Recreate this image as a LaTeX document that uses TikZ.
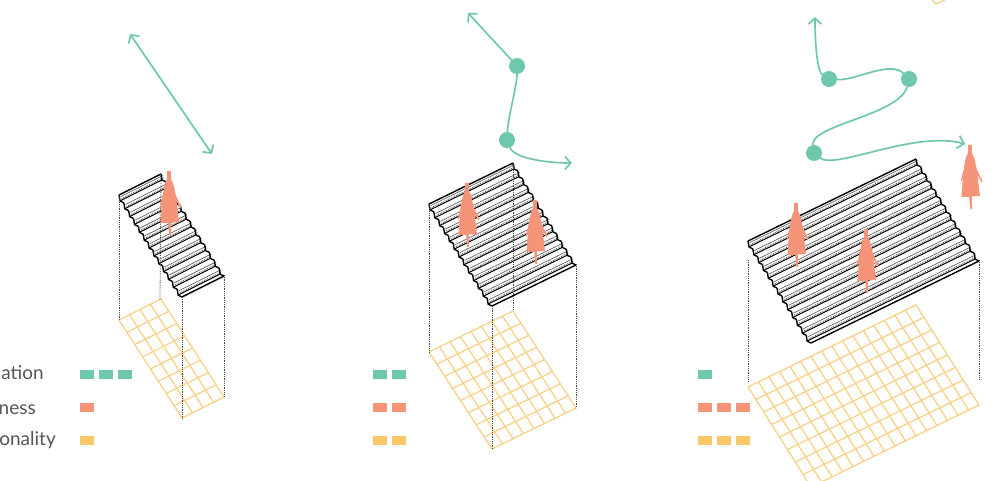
\documentclass[tikz,border=0pt]{standalone}
\usepackage{fontspec}
\setmainfont{Lato}
\usetikzlibrary{positioning, arrows.meta}
\definecolor{flow}{RGB}{111, 199, 174}
\definecolor{people}{RGB}{245, 148, 120}
\definecolor{func}{RGB}{247, 199, 104}
\definecolor{gridline}{RGB}{247, 208, 131}
\definecolor{label}{RGB}{85, 85, 85}
\definecolor{dots}{RGB}{70, 70, 70}

\begin{document}
\begin{tikzpicture}[
    x=1pt, y=-1pt,
    dot_style/.style={
        circle,
        fill=flow,
        draw=none,
        inner sep=0pt,
        outer sep=0pt,
        minimum size=16pt
    },
    flow_style/.style={
        draw=flow,
        line width=1.7pt,
        -{Straight Barb[length=6pt, width=13pt]}
    },
    chip_style/.style={
        minimum width=14pt,
        minimum height=9pt,
        inner sep=0pt,
        outer sep=0pt,
        node distance=5pt
    },
    info/.style={text=label, font=\fontsize{19}{21}\selectfont, anchor=base east, inner sep=0pt},
    grid_style/.style={draw=gridline, line width=1.2pt},
    edge_style/.style={draw=black, line width=1.4pt, line join=round},
    tread_style/.style={draw=black, line width=1.0pt},
    back_style/.style={draw=black!60, line width=0.7pt},
    nose_style/.style={draw=dots, line width=0.8pt, densely dotted},
    drop_style/.style={draw=dots, line width=0.8pt, densely dotted},
    person/.pic={
        \fill[people] (-1.9,0) -- (1.9,0) -- (1.9,8) -- (4,12) -- (7,25) -- (12.5,36) -- (11.5,37.5)
            -- (7.5,30) -- (8,35) -- (10,51) -- (1.8,51.5) -- (2.2,64) -- (0.3,64) -- (-0.8,52) -- (-8.5,52)
            -- (-7.5,38) -- (-7,33) -- (-8.8,37) -- (-9,35) -- (-6.5,25) -- (-4,12) -- (-1.9,8) -- cycle;
    }
]

\useasboundingbox (0,0) rectangle (1007,481);
\clip (0,0) rectangle (1007,481);

\foreach \p/\lx/\ly/\wx/\wy/\gy/\gd/\cells in {a/119/195/42/-21/320/98/4, b/429/204/84/-41/352/97/8, c/748/241/168/-82/387/100/16} {
    \coordinate (roof\p) at (\lx,\ly);
    \coordinate (floor\p) at (\lx,\gy);
    % floor grid
    \foreach \i in {0,...,8} {
        \draw[grid_style] ({\lx+\i*63/8},{\gy+\i*\gd/8}) -- ++(\wx,\wy);
    }
    \foreach \j in {0,...,\cells} {
        \draw[grid_style] ({\lx+\j*\wx/\cells},{\gy+\j*\wy/\cells}) -- ++(63,\gd);
    }
    % stair treads
    \foreach \i in {0,...,12} {
        \draw[back_style] ({\lx+(\i+0.35)*63/13},{\ly+(\i+0.2)*102/13}) -- ++(\wx,\wy);
        \draw[nose_style] ({\lx+(\i+0.55)*63/13},{\ly+(\i+0.45)*102/13}) -- ++(\wx,\wy);
        \draw[tread_style] ({\lx+(\i+0.2)*63/13},{\ly+(\i+0.75)*102/13}) -- ++(\wx,\wy);
        \draw[edge_style] ({\lx+\i*63/13},{\ly+\i*102/13}) -- ++(1,6) -- ++(3.85,1.85);
        \draw[edge_style] ({\lx+\wx+\i*63/13},{\ly+\wy+\i*102/13}) -- ++(1,6) -- ++(3.85,1.85);
    }
    \draw[edge_style] (roof\p) -- ++(\wx,\wy);
    \draw[edge_style] ({\lx+63},{\ly+102}) -- ++(\wx,\wy);
}

\draw[drop_style] (roofa) -- (floora);
\draw[drop_style] (161,174) -- (160,300);
\draw[drop_style] (182,297) -- (182,418);
\draw[drop_style] (224,275) -- (224,397);

\draw[drop_style] (roofb) -- (floorb);
\draw[drop_style] (513,163) -- (513,310);
\draw[drop_style] (492,306) -- (492,449);
\draw[drop_style] (576,264) -- (576,408);

\draw[drop_style] (748,260) -- (748,382);
\draw[drop_style] (979,260) -- (979,380);

\draw[grid_style] (932,0) -- (936,4) -- (945,0);

\pic at (169,171) {person};
\pic at (467,183) {person};
\pic at (535,200) {person};
\pic at (796,203) {person};
\pic at (866,229) {person};
\pic at (970,145) {person};

\coordinate (a0) at (130,34);
\coordinate (a1) at (212,154);
\draw[flow_style, {Straight Barb[length=6pt, width=13pt]}-{Straight Barb[length=6pt, width=13pt]}] (a0) -- (a1);

\node[dot_style] (b0) at (517,66) {};
\node[dot_style] (b1) at (507,140) {};
\coordinate (b2) at (468,13);
\coordinate (b3) at (572,163);
\draw[flow_style] (b0) -- (b2);
\draw[flow_style, -] (b0) .. controls (517,85) and (508,118) .. (b1);
\draw[flow_style] (b1) .. controls (514,158) and (545,163) .. (b3);

\node[dot_style] (c0) at (829,79) {};
\node[dot_style] (c1) at (909,79) {};
\node[dot_style] (c2) at (814,153) {};
\coordinate (c3) at (815,17);
\coordinate (c4) at (965,144);
\draw[flow_style] (c0) .. controls (818,72) and (815,50) .. (c3);
\draw[flow_style, -] (c0) .. controls (855,81) and (890,60) .. (c1);
\draw[flow_style, -] (c1) .. controls (900,115) and (810,125) .. (c2);
\draw[flow_style] (c2) .. controls (835,170) and (915,130) .. (c4);

\node[info] (t0) at (44,379) {ation};
\node[info] (t1) at (36,414) {ness};
\node[info] (t2) at (56,445) {onality};

\node[chip_style, fill=flow] (k0) at (87,374.5) {};
\node[chip_style, fill=flow, right=of k0] (k1) {};
\node[chip_style, fill=flow, right=of k1] (k2) {};
\node[chip_style, fill=people] (k3) at (87,407.5) {};
\node[chip_style, fill=func] (k4) at (87,440.5) {};

\node[chip_style, fill=flow] (m0) at (380,374.5) {};
\node[chip_style, fill=flow, right=of m0] (m1) {};
\node[chip_style, fill=people] (m2) at (380,407.5) {};
\node[chip_style, fill=people, right=of m2] (m3) {};
\node[chip_style, fill=func] (m4) at (380,440.5) {};
\node[chip_style, fill=func, right=of m4] (m5) {};

\node[chip_style, fill=flow] (n0) at (705,374.5) {};
\node[chip_style, fill=people] (n1) at (705,407.5) {};
\node[chip_style, fill=people, right=of n1] (n2) {};
\node[chip_style, fill=people, right=of n2] (n3) {};
\node[chip_style, fill=func] (n4) at (705,440.5) {};
\node[chip_style, fill=func, right=of n4] (n5) {};
\node[chip_style, fill=func, right=of n5] (n6) {};

\end{tikzpicture}
\end{document}
